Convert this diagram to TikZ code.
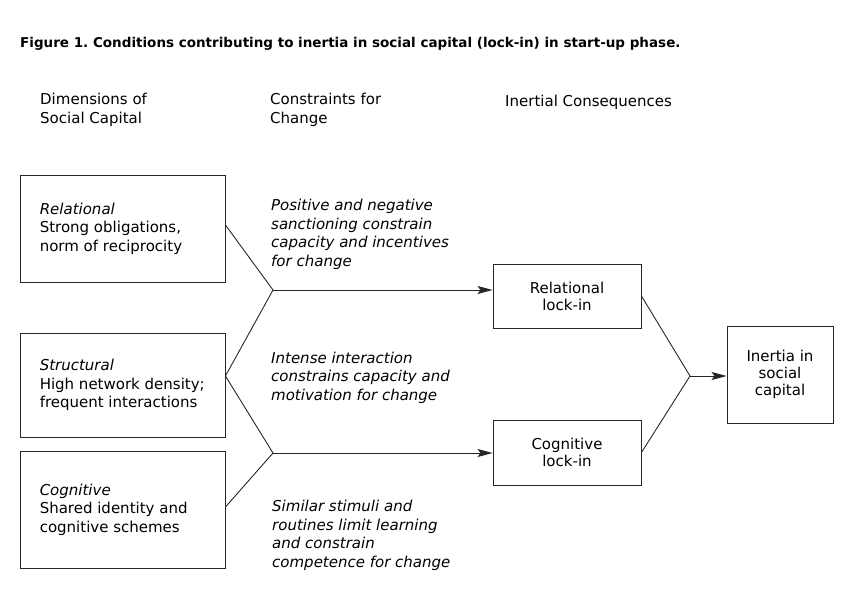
\documentclass[tikz,border=0pt]{standalone}
\usepackage{fontspec}
\setmainfont{DejaVu Sans}
\usetikzlibrary{arrows.meta,calc}
\frenchspacing
\begin{document}
\begin{tikzpicture}[x=1pt,y=-1pt,
  every node/.style={inner sep=0pt, text=black},
  body/.style={font=\fontsize{15}{18.4}\selectfont},
  cbody/.style={font=\fontsize{15}{17}\selectfont},
  hdr/.style={body, align=left, anchor=base west},
  ital/.style={font=\fontsize{15}{18.4}\selectfont\itshape, align=left, anchor=base west},
  dimbox/.style={draw=black!85, line width=0.9pt, minimum width=205pt},
  dimtext/.style={body, align=left, anchor=west},
  lockbox/.style={draw=black!85, line width=0.9pt, cbody, align=center},
  link/.style={draw=black!85, line width=0.9pt},
  arr/.style={link, -{Stealth[length=15pt, width=8pt, inset=3pt]}}
]
\useasboundingbox (0,0) rectangle (863,597);

\node[anchor=base west, font=\fontsize{13.5}{15}\selectfont\bfseries] (title) at (20,47)
  {Figure 1. Conditions contributing to inertia in social capital (lock-in) in start-up phase.};

% base of a multi-line node = baseline of its last line
\node[hdr] (h1) at (40,123) {Dimensions of\\Social Capital};
\node[hdr] (h2) at (270,123) {Constraints for\\Change};
\node[hdr] (h3) at (505,106) {Inertial Consequences};

\node[dimbox, minimum height=107pt] (R) at (122.5,228.5) {};
\node[dimbox, minimum height=104pt] (S) at (122.5,385) {};
\node[dimbox, minimum height=117pt] (C) at (122.5,509.5) {};
\node[dimtext] (Rt) at ([xshift=20pt]R.west) {\textit{Relational}\\Strong obligations,\\norm of reciprocity};
\node[dimtext] (St) at ([xshift=20pt]S.west) {\textit{Structural}\\High network density;\\frequent interactions};
\node[dimtext] (Ct) at ([xshift=20pt]C.west) {\textit{Cognitive}\\Shared identity and\\cognitive schemes};

\node[ital] (t1) at (271,266) {Positive and negative\\sanctioning constrain\\capacity and incentives\\for change};
\node[ital] (t2) at (271,400) {Intense interaction\\constrains capacity and\\motivation for change};
\node[ital] (t3) at (272,567) {Similar stimuli and\\routines limit learning\\and constrain\\competence for change};

\node[lockbox, minimum width=148pt, minimum height=64pt] (RL) at (567,296) {Relational\\lock-in};
\node[lockbox, minimum width=148pt, minimum height=65pt] (CL) at (567,452.5) {Cognitive\\lock-in};
\node[lockbox, minimum width=106pt, minimum height=97pt] (IN) at (780,374.5) {Inertia in\\social\\capital};

\coordinate (j1) at (273,290);
\coordinate (j2) at (273,453);
\coordinate (j3) at (690,376);

\draw[link] ([yshift=3.5pt]R.east) -- (j1) -- ([yshift=9pt]S.east) -- (j2) -- ([yshift=2.5pt]C.east);
\draw[arr] (j1) -- (j1 -| RL.west);
\draw[arr] (j2) -- (j2 -| CL.west);
\draw[link] (RL.east) -- (j3) -- (CL.east);
\draw[arr] (j3) -- (j3 -| IN.west);
\end{tikzpicture}
\end{document}
